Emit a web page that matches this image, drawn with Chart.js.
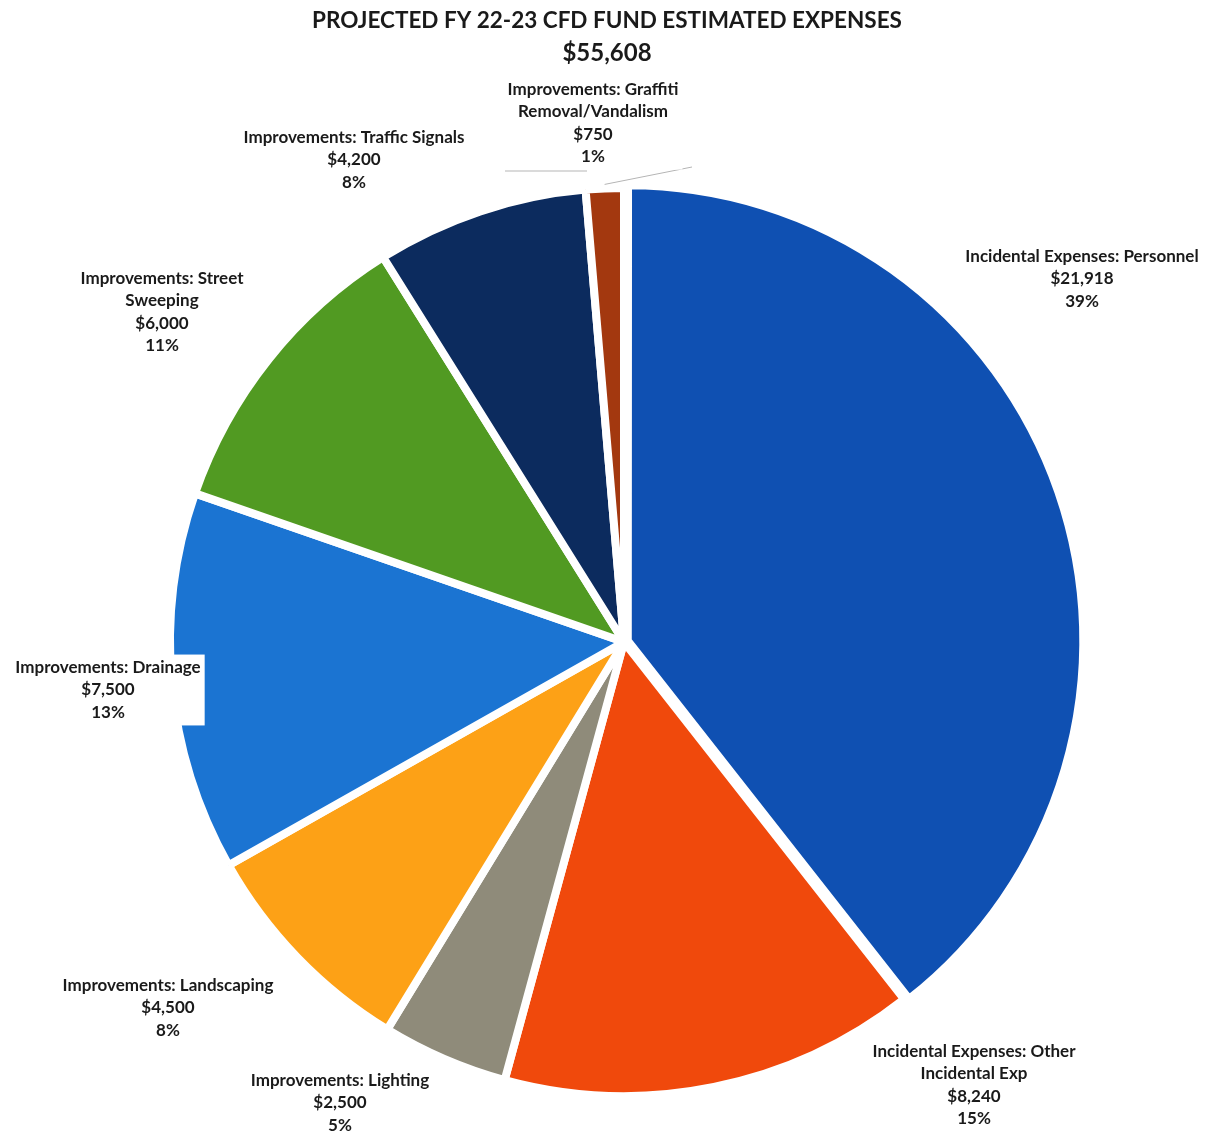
<!DOCTYPE html>
<html>
<head>
<meta charset="utf-8">
<title>Projected FY 22-23 CFD Fund Estimated Expenses</title>
<script src="https://cdn.jsdelivr.net/npm/chart.js@4.4.0/dist/chart.umd.min.js"></script>
<style>
  html, body { margin: 0; padding: 0; background: #fff; }
  #wrap { width: 1206px; height: 1133px; }
</style>
</head>
<body>
<div id="wrap"><canvas id="pieChart" width="1206" height="1133"></canvas></div>
<script>
// expense categories (label text already wrapped the way it prints)
const categories = [
  ['Incidental Expenses: Personnel'],
  ['Incidental Expenses: Other', 'Incidental Exp'],
  ['Improvements: Lighting'],
  ['Improvements: Landscaping'],
  ['Improvements: Drainage'],
  ['Improvements: Street', 'Sweeping'],
  ['Improvements: Traffic Signals'],
  ['Improvements: Graffiti', 'Removal/Vandalism']
];
const amounts = [21918, 8240, 2500, 4500, 7500, 6000, 4200, 750];
const pctLabels = ['39%', '15%', '5%', '8%', '13%', '11%', '8%', '1%'];
const colors = ['#0f50b2', '#f0490c', '#8f8b7a', '#fda116', '#1b74d2', '#519a22', '#0c2b5e', '#a3380f'];
const titleText = 'PROJECTED FY 22-23 CFD FUND ESTIMATED EXPENSES';

// where each label block sits, measured from the pie centre
const labelOffsets = [[458, -363], [350, 443], [-284, 461], [-456, 366], [-516, 48], [-462, -330], [-270, -482], [-31, -519]];

const FONT = 'Lato, "Open Sans", sans-serif';
const money = v => '$' + v.toLocaleString('en-US');
const total = amounts.reduce((a, b) => a + b, 0);

const labelPlugin = {
  id: 'sliceLabels',
  afterDraw(chart) {
    const ctx = chart.ctx;
    const arcs = chart.getDatasetMeta(0).data;
    const cx = (chart.chartArea.left + chart.chartArea.right) / 2;
    const cy = (chart.chartArea.top + chart.chartArea.bottom) / 2;
    ctx.save();
    ctx.textAlign = 'center';
    ctx.textBaseline = 'middle';
    ctx.fillStyle = '#1a1a1a';

    // title and total
    ctx.font = 'bold 22.5px ' + FONT;
    ctx.fillText(titleText, 607, 21);
    ctx.font = 'bold 24px ' + FONT;
    ctx.fillText(money(total), 607, 53);

    // leader for the small graffiti slice
    const g = arcs[7];
    const gMid = (g.startAngle + g.endAngle) / 2;
    ctx.strokeStyle = '#b5b5b5';
    ctx.lineWidth = 1;
    ctx.beginPath();
    ctx.moveTo(cx + labelOffsets[7][0] - 88, 171);
    ctx.lineTo(cx + labelOffsets[7][0] - 6, 171);
    ctx.moveTo(g.x + Math.cos(gMid) * (g.outerRadius + 4), g.y + Math.sin(gMid) * (g.outerRadius + 4));
    ctx.lineTo(g.x + 68, 167);
    ctx.stroke();

    ctx.font = 'bold 17px ' + FONT;
    const lineH = 22.3;
    categories.forEach((name, i) => {
      const lines = name.concat([money(amounts[i]), pctLabels[i]]);
      const x = cx + labelOffsets[i][0];
      const y0 = cy + labelOffsets[i][1] - (lines.length - 1) * lineH / 2;
      // white label box, as the label sits over the pie in places
      const w = Math.max(...lines.map(t => ctx.measureText(t).width)) + 8;
      const h = lines.length * lineH + 4;
      ctx.fillStyle = '#ffffff';
      ctx.fillRect(x - w / 2, y0 - lineH / 2 - 2, w, h);
      ctx.fillStyle = '#1a1a1a';
      lines.forEach((t, k) => ctx.fillText(t, x, y0 + k * lineH));
    });
    ctx.restore();
  }
};

new Chart(document.getElementById('pieChart'), {
  type: 'pie',
  data: {
    labels: categories.map(c => c.join(' ')),
    datasets: [{
      data: amounts,
      backgroundColor: colors,
      borderColor: '#ffffff',
      borderWidth: 8,
      offset: [16, 0, 0, 0, 0, 0, 0, 0]
    }]
  },
  options: {
    responsive: false,
    animation: false,
    radius: 454,
    layout: { padding: { left: 44, right: 2, top: 152, bottom: 1 } },
    plugins: {
      legend: { display: false },
      tooltip: { enabled: false },
      title: { display: false }
    }
  },
  plugins: [labelPlugin]
});
</script>
</body>
</html>
